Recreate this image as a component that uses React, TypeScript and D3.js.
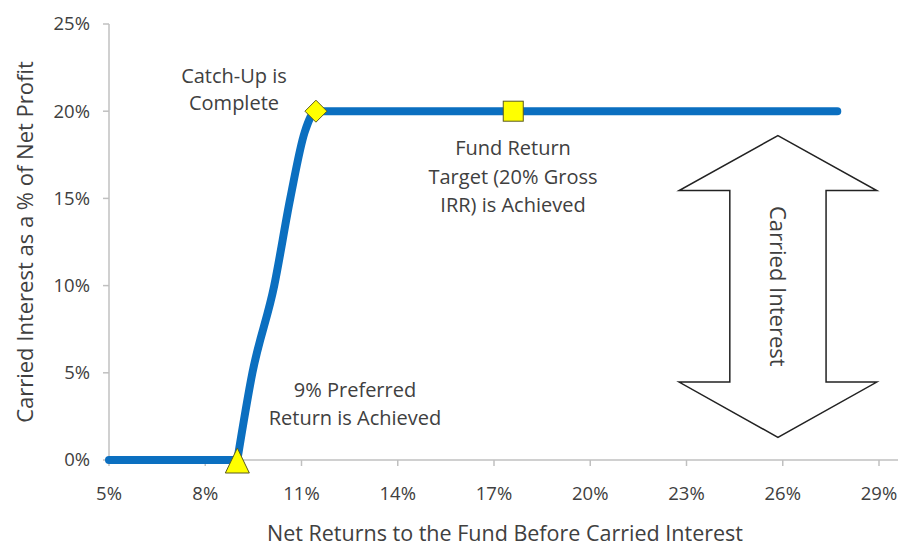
import React from "react";
import * as d3 from "d3";

const xTicks = [5, 8, 11, 14, 17, 20, 23, 26, 29];
const yTicks = [0, 5, 10, 15, 20, 25];
const flatX = [5, 9];
const flatY = [0, 0];
const riseX = [9, 9.47, 10.15, 10.65, 11.1, 11.45, 17.6, 27.7];
const riseY = [0, 5, 10, 15, 18.8, 20, 20, 20];
const triangleMark = { x: 9, y: 0 };
const diamondMark = { x: 11.45, y: 20 };
const squareMark = { x: 17.6, y: 20 };
// arrow spans in data units
const arrowX = { center: 25.85, headHalf: 3.08, shaftHalf: 1.5 };
const arrowY = { top: 18.6, headBase: 15.45, bottom: 1.3, lowerHeadBase: 4.47 };

const FONT = "'Open Sans', sans-serif";
const TXT = "#404040";

export default function App() {
  const W = 900, H = 547;
  const x = d3.scaleLinear().domain([5, 29]).range([109, 879]);
  const y = d3.scaleLinear().domain([0, 25]).range([460, 24]);
  const flatPts = flatX.map((v, i) => [v, flatY[i]] as [number, number]);
  const risePts = riseX.map((v, i) => [v, riseY[i]] as [number, number]);
  const line = d3.line<[number, number]>().x(d => x(d[0])).y(d => y(d[1]));
  const smooth = d3.line<[number, number]>().x(d => x(d[0])).y(d => y(d[1])).curve(d3.curveMonotoneX);

  const cx = x(arrowX.center);
  const hl = x(arrowX.center - arrowX.headHalf), hr = x(arrowX.center + arrowX.headHalf);
  const sl = x(arrowX.center - arrowX.shaftHalf), sr = x(arrowX.center + arrowX.shaftHalf);
  const aTop = y(arrowY.top), aHB = y(arrowY.headBase), aBot = y(arrowY.bottom), aLHB = y(arrowY.lowerHeadBase);
  const arrowPath = `M${cx},${aTop} L${hr},${aHB} L${sr},${aHB} L${sr},${aLHB} L${hr},${aLHB} L${cx},${aBot} L${hl},${aLHB} L${sl},${aLHB} L${sl},${aHB} L${hl},${aHB} Z`;

  const tx = x(triangleMark.x), ty = y(triangleMark.y);
  const dx = x(diamondMark.x), dy = y(diamondMark.y);
  const sx = x(squareMark.x), sy = y(squareMark.y);

  return (
    <svg width={W} height={H} style={{ position: "absolute", left: 0, top: 0, background: "#fff" }}>
      <rect width={W} height={H} fill="#fff" />
      {/* axes */}
      <line x1={109} x2={109} y1={y(25)} y2={y(0)} stroke="#c0c0c0" strokeWidth={1.5} />
      <line x1={109} x2={898} y1={y(0)} y2={y(0)} stroke="#c0c0c0" strokeWidth={1.5} />
      {yTicks.map(t => (
        <g key={"y" + t}>
          <line x1={103} x2={109} y1={y(t)} y2={y(t)} stroke="#c0c0c0" strokeWidth={1.5} />
          <text x={90} y={y(t)} dy="0.35em" textAnchor="end" fontFamily={FONT} fontSize={18.5} fill={TXT}>{t}%</text>
        </g>
      ))}
      {xTicks.map(t => (
        <g key={"x" + t}>
          <line x1={x(t)} x2={x(t)} y1={y(0)} y2={y(0) + 6} stroke="#c0c0c0" strokeWidth={1.5} />
          <text x={x(t)} y={y(0) + 40} textAnchor="middle" fontFamily={FONT} fontSize={18.5} fill={TXT}>{t}%</text>
        </g>
      ))}
      <text transform={`translate(33,${(y(0) + y(25)) / 2}) rotate(-90)`} textAnchor="middle" fontFamily={FONT} fontSize={22} fill={TXT}>Carried Interest as a % of Net Profit</text>
      <text x={505} y={541} textAnchor="middle" fontFamily={FONT} fontSize={21.5} fill={TXT}>Net Returns to the Fund Before Carried Interest</text>

      {/* arrow */}
      <path d={arrowPath} fill="#fff" stroke="#222" strokeWidth={1.5} />
      <text transform={`translate(${cx},${(aHB + aLHB) / 2}) rotate(90)`} textAnchor="middle" dy="0.35em" fontFamily={FONT} fontSize={22} fill={TXT}>Carried Interest</text>

      {/* line */}
      <path d={line(flatPts) || ""} fill="none" stroke="#0b6fc0" strokeWidth={8} strokeLinecap="round" />
      <path d={smooth(risePts) || ""} fill="none" stroke="#0b6fc0" strokeWidth={8} strokeLinecap="round" strokeLinejoin="round" />

      {/* markers */}
      <path d={`M${tx},${ty - 12} L${tx + 12},${ty + 13} L${tx - 12},${ty + 13} Z`} fill="#ffff00" stroke="#5a5a20" strokeWidth={1} />
      <path d={`M${dx},${dy - 11} L${dx + 11},${dy} L${dx},${dy + 11} L${dx - 11},${dy} Z`} fill="#ffff00" stroke="#5a5a20" strokeWidth={1} />
      <rect x={sx - 10} y={sy - 10} width={20} height={20} fill="#ffff00" stroke="#5a5a20" strokeWidth={1} />

      {/* annotations */}
      <g fontFamily={FONT} fontSize={20} fill={TXT} textAnchor="middle">
        <text x={234} y={83}>Catch-Up is</text>
        <text x={234} y={110}>Complete</text>
        <text x={513} y={155}>Fund Return</text>
        <text x={513} y={184}>Target (20% Gross</text>
        <text x={513} y={212}>IRR) is Achieved</text>
        <text x={355} y={397}>9% Preferred</text>
        <text x={355} y={425}>Return is Achieved</text>
      </g>
    </svg>
  );
}
